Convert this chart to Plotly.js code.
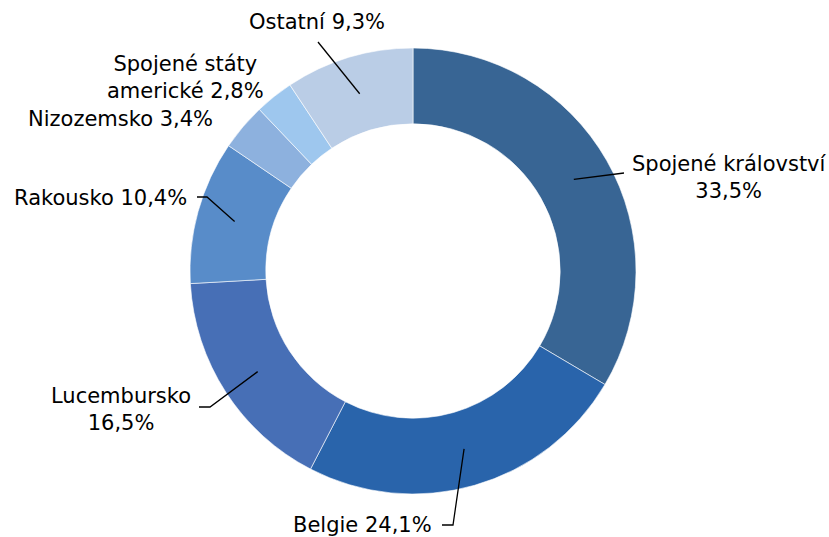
<!DOCTYPE html>
<html>
<head>
<meta charset="utf-8">
<script src="https://cdn.plot.ly/plotly-3.0.1.min.js"></script>
<style>html,body{margin:0;padding:0;background:#fff;}#chart{width:829px;height:537px;}</style>
</head>
<body>
<div id="chart"></div>
<script>
// Data
const categories = ["Spojené království", "Belgie", "Lucembursko", "Rakousko", "Nizozemsko", "Spojené státy americké", "Ostatní"];
const shares = [33.5, 24.1, 16.5, 10.4, 3.4, 2.8, 9.3];
const labelTexts = ["Spojené království<br>33,5%", "Belgie 24,1%", "Lucembursko<br>16,5%", "Rakousko 10,4%", "Nizozemsko 3,4%", "Spojené státy<br>americké 2,8%", "Ostatní 9,3%"];
const colors = ["#386594", "#2964ab", "#476fb6", "#588cc9", "#8db1de", "#9ec7ee", "#bacde6"];

// Layout geometry (pixels)
const W = 829, H = 537;
const cx = 413, cy = 271, R = 223, holeFrac = 0.66;
const px = x => x / W;
const py = y => 1 - y / H;

// label placement (layout, not data)
const labelPos = [
  {x: 729, y: 177, xanchor: "center", align: "center"},
  {x: 434, y: 525, xanchor: "right", align: "right"},
  {x: 121, y: 409, xanchor: "center", align: "center"},
  {x: 189, y: 198, xanchor: "right", align: "right"},
  {x: 215, y: 119, xanchor: "right", align: "right"},
  {x: 185, y: 77, xanchor: "center", align: "center"},
  {x: 317, y: 22, xanchor: "center", align: "center"}
];
// leader line elbows (null = no leader line)
const elbows = [
  [[624, 173]],
  [[453, 525], [442, 525]],
  [[210, 407], [199, 407]],
  [[207, 197], [197, 197]],
  null,
  null,
  [[318, 42]]
];

// anchor points computed from the data (mid-angle of each slice)
const total = shares.reduce((a, b) => a + b, 0);
let cum = 0;
const anchorR = R * (1 + holeFrac) / 2;
const shapes = [];
shares.forEach((v, i) => {
  const mid = (cum + v / 2) / total * 2 * Math.PI;
  cum += v;
  if (!elbows[i]) return;
  const ax = cx + anchorR * Math.sin(mid);
  const ay = cy - anchorR * Math.cos(mid);
  let path = `M ${px(ax)} ${py(ay)}`;
  elbows[i].forEach(p => { path += ` L ${px(p[0])} ${py(p[1])}`; });
  shapes.push({type: "path", xref: "paper", yref: "paper", path: path,
    line: {color: "#000000", width: 1.3}, layer: "above"});
});

const annotations = labelTexts.map((t, i) => ({
  text: t, xref: "paper", yref: "paper",
  x: px(labelPos[i].x), y: py(labelPos[i].y),
  xanchor: labelPos[i].xanchor, yanchor: "middle", align: labelPos[i].align,
  showarrow: false,
  font: {family: "Verdana, 'DejaVu Sans', sans-serif", size: 21, color: "#000000"}
}));

const trace = {
  type: "pie",
  labels: categories,
  values: shares,
  hole: holeFrac,
  sort: false,
  direction: "clockwise",
  rotation: 0,
  textinfo: "none",
  hoverinfo: "label+percent",
  marker: {colors: colors, line: {color: "#ffffff", width: 0.6}},
  domain: {x: [px(cx - R), px(cx + R)], y: [py(cy + R), py(cy - R)]},
  showlegend: false
};

const layout = {
  width: W, height: H,
  margin: {l: 0, r: 0, t: 0, b: 0},
  paper_bgcolor: "#ffffff",
  plot_bgcolor: "#ffffff",
  showlegend: false,
  shapes: shapes,
  annotations: annotations
};

Plotly.newPlot("chart", [trace], layout, {displayModeBar: false, staticPlot: true});
</script>
</body>
</html>
